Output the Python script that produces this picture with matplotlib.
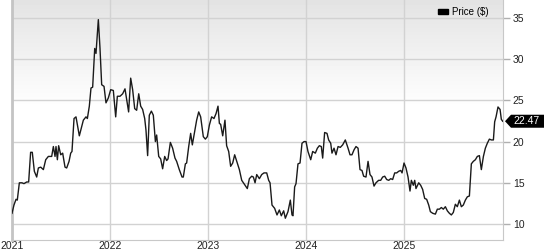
import numpy as np
import matplotlib
matplotlib.use("Agg")
import matplotlib.pyplot as plt
from matplotlib.patches import Patch, Polygon
from matplotlib.transforms import blended_transform_factory, ScaledTranslation

plt.rcParams['font.family'] = ['Liberation Sans', 'DejaVu Sans']

# weekly-ish price readings (decimal year, price in $)
years = [
    2021.000, 2021.020, 2021.041, 2021.054, 2021.075, 2021.102, 2021.122, 2021.150,
    2021.170, 2021.190, 2021.207, 2021.228, 2021.252, 2021.269, 2021.293, 2021.320,
    2021.344, 2021.371, 2021.405, 2021.422, 2021.439, 2021.449, 2021.463, 2021.476,
    2021.497, 2021.517, 2021.541, 2021.558, 2021.582, 2021.599, 2021.612, 2021.633,
    2021.653, 2021.687, 2021.728, 2021.755, 2021.769, 2021.789, 2021.806, 2021.823,
    2021.844, 2021.857, 2021.881, 2021.898, 2021.915, 2021.939, 2021.959, 2021.983,
    2022.007, 2022.034, 2022.058, 2022.075, 2022.102, 2022.129, 2022.153, 2022.170,
    2022.190, 2022.211, 2022.231, 2022.252, 2022.272, 2022.293, 2022.313, 2022.333,
    2022.354, 2022.367, 2022.384, 2022.401, 2022.422, 2022.442, 2022.463, 2022.476,
    2022.497, 2022.517, 2022.537, 2022.558, 2022.578, 2022.592, 2022.616, 2022.639,
    2022.663, 2022.680, 2022.707, 2022.735, 2022.748, 2022.769, 2022.782, 2022.803,
    2022.823, 2022.840, 2022.861, 2022.884, 2022.905, 2022.925, 2022.952, 2022.973,
    2022.993, 2023.014, 2023.037, 2023.061, 2023.082, 2023.102, 2023.116, 2023.129,
    2023.150, 2023.173, 2023.190, 2023.211, 2023.231, 2023.252, 2023.272, 2023.299,
    2023.320, 2023.344, 2023.367, 2023.401, 2023.422, 2023.446, 2023.463, 2023.480,
    2023.497, 2023.524, 2023.548, 2023.571, 2023.599, 2023.619, 2023.633, 2023.653,
    2023.680, 2023.704, 2023.728, 2023.748, 2023.772, 2023.789, 2023.816, 2023.840,
    2023.857, 2023.867, 2023.884, 2023.898, 2023.918, 2023.939, 2023.959, 2023.980,
    2024.000, 2024.020, 2024.048, 2024.068, 2024.095, 2024.116, 2024.136, 2024.156,
    2024.170, 2024.190, 2024.214, 2024.231, 2024.252, 2024.265, 2024.286, 2024.306,
    2024.327, 2024.350, 2024.374, 2024.401, 2024.429, 2024.449, 2024.469, 2024.490,
    2024.510, 2024.531, 2024.551, 2024.571, 2024.588, 2024.612, 2024.633, 2024.653,
    2024.673, 2024.694, 2024.714, 2024.741, 2024.762, 2024.782, 2024.803, 2024.823,
    2024.844, 2024.864, 2024.884, 2024.905, 2024.925, 2024.946, 2024.966, 2024.980,
    2025.000, 2025.020, 2025.041, 2025.061, 2025.075, 2025.095, 2025.109, 2025.122,
    2025.150, 2025.170, 2025.190, 2025.211, 2025.231, 2025.252, 2025.269, 2025.293,
    2025.320, 2025.340, 2025.361, 2025.381, 2025.401, 2025.422, 2025.442, 2025.463,
    2025.483, 2025.503, 2025.524, 2025.544, 2025.565, 2025.585, 2025.605, 2025.626,
    2025.646, 2025.667, 2025.687, 2025.707, 2025.728, 2025.748, 2025.769, 2025.789,
    2025.810, 2025.830, 2025.850, 2025.871, 2025.891, 2025.912, 2025.925, 2025.939,
    2025.959, 2025.980, 2025.993, 2026.007,
]
prices = [
    11.3, 12.3, 13.0, 12.9, 15.0, 15.0, 14.9, 15.1,
    15.1, 18.7, 18.7, 16.4, 15.7, 16.8, 16.9, 16.6,
    17.8, 18.2, 18.2, 19.4, 18.2, 19.4, 17.8, 19.5,
    18.4, 18.6, 16.9, 16.8, 17.6, 18.6, 18.8, 22.8,
    23.0, 20.7, 22.6, 23.0, 22.8, 24.3, 26.5, 26.6,
    31.3, 30.7, 34.8, 31.3, 26.9, 26.7, 24.7, 25.3,
    26.3, 26.2, 23.0, 25.5, 25.5, 25.8, 26.4, 25.1,
    23.6, 27.7, 26.3, 24.0, 23.8, 25.8, 24.3, 23.9,
    22.8, 21.4, 18.3, 23.2, 23.7, 23.2, 20.0, 20.8,
    18.2, 17.9, 16.7, 18.2, 17.7, 17.9, 19.9, 19.2,
    18.0, 17.6, 16.6, 15.7, 15.7, 17.3, 17.4, 19.4,
    21.0, 19.6, 21.0, 22.6, 23.6, 23.0, 20.6, 20.3,
    20.6, 22.0, 23.0, 22.8, 23.4, 24.3, 22.2, 22.1,
    20.7, 22.6, 19.5, 18.8, 17.0, 17.4, 18.4, 17.4,
    16.6, 15.3, 14.9, 14.3, 15.5, 15.8, 15.7, 15.0,
    16.0, 15.5, 16.0, 16.2, 16.2, 15.3, 15.0, 12.3,
    11.9, 11.1, 11.7, 11.0, 11.6, 10.7, 11.5, 12.9,
    11.1, 11.0, 14.5, 14.9, 17.3, 17.4, 19.8, 20.0,
    20.0, 18.8, 17.8, 18.8, 18.6, 19.2, 19.5, 19.4,
    18.0, 21.1, 21.0, 20.2, 19.8, 18.6, 19.2, 18.4,
    19.4, 19.3, 19.6, 20.2, 19.2, 18.4, 18.4, 19.0,
    19.4, 19.2, 16.6, 16.5, 15.8, 15.7, 17.6, 16.0,
    15.7, 14.6, 15.0, 15.3, 15.3, 15.7, 15.8, 15.4,
    15.3, 15.5, 15.4, 16.2, 16.2, 16.4, 16.5, 16.2,
    17.4, 16.8, 15.7, 14.0, 15.3, 14.7, 15.3, 14.3,
    15.0, 14.7, 14.2, 13.1, 13.0, 12.3, 11.5, 11.3,
    11.2, 11.8, 11.8, 12.0, 11.8, 12.1, 11.6, 11.3,
    11.1, 11.4, 12.4, 12.1, 12.9, 12.1, 12.3, 12.9,
    13.3, 13.4, 17.3, 17.6, 17.8, 18.2, 18.3, 16.6,
    18.2, 19.2, 19.8, 20.3, 20.2, 20.2, 22.4, 23.0,
    24.2, 23.9, 22.7, 22.47,
]
year_ticks = [2021, 2022, 2023, 2024, 2025]
price_ticks = [10, 15, 20, 25, 30, 35]
last_price = 22.47

fig = plt.figure(figsize=(5.44, 2.5), dpi=100)
ax = fig.add_axes([12 / 544, 10 / 250, 491 / 544, 240 / 250])

x_lo, x_hi = 2021.0, 2026.01
y_lo, y_hi = 8.06, 37.18

# grey-to-white background gradient in the top part
rows = np.linspace(0, 1, 240)
shade = np.clip(1 - rows / 0.45, 0, 1)
grey = 1 - 0.11 * shade
bg = np.repeat(grey[:, None], 2, axis=1)
ax.imshow(bg, cmap='gray', vmin=0, vmax=1, aspect='auto',
          extent=[x_lo, x_hi, y_lo, y_hi], origin='upper', zorder=0)

for yr in year_ticks:
    ax.axvline(yr, color='#d2d2d2', lw=1, zorder=1)
for p in price_ticks:
    ax.axhline(p, color='#d2d2d2', lw=1, zorder=1)

ax.plot(years, prices, color='#1a1a1a', lw=1, zorder=3)

ax.set_xlim(x_lo, x_hi)
ax.set_ylim(y_lo, y_hi)

ax.set_xticks(year_ticks)
ax.set_xticklabels([str(y) for y in year_ticks])
ax.yaxis.tick_right()
ax.set_yticks(price_ticks)
ax.tick_params(axis='x', length=0, pad=1, labelsize=7.5, labelcolor='#222222')
ax.tick_params(axis='y', length=5, width=1, color='#b0b0b0', pad=2,
               labelsize=7.5, labelcolor='#222222')

ax.spines['top'].set_visible(False)
ax.spines['left'].set_color('#c4c4c4')
ax.spines['left'].set_linewidth(2)
ax.spines['bottom'].set_color('#c8c8c8')
ax.spines['right'].set_color('#c8c8c8')

# last price tag: pointed black box anchored at the right edge, at the last price
tr = blended_transform_factory(ax.transAxes, ax.transData)
anchor = fig.dpi_scale_trans + ScaledTranslation(1.0, last_price, tr)
tag_shape = np.array([[2, 0], [8, 6.5], [42, 6.5], [42, -6.5], [8, -6.5]]) / 100
ax.add_patch(Polygon(tag_shape, closed=True, transform=anchor, fc='black', ec='none',
                     clip_on=False, zorder=5))
ax.annotate(f"{last_price:.2f}", xy=(1.0, last_price), xycoords=tr,
            xytext=(10, 0), textcoords='offset pixels', ha='left', va='center',
            color='white', fontsize=7.5, annotation_clip=False, zorder=6)

ax.legend(handles=[Patch(color='black', label='Price ($)')], loc='upper right',
          frameon=False, fontsize=7, handlelength=1.1, handleheight=0.5,
          handletextpad=0.4, borderaxespad=0.3, bbox_to_anchor=(0.985, 1.0))

fig.savefig('out.png', dpi=100)
